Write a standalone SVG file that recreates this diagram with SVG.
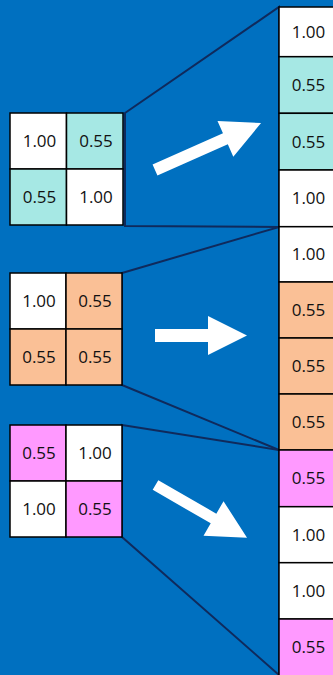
<svg xmlns="http://www.w3.org/2000/svg" width="333" height="675" viewBox="0 0 333 675">
<style>
.c{stroke:#000;stroke-width:1.5}
.w{fill:#fff}
.cy{fill:#a6e8e4}
.or{fill:#fac096}
.pk{fill:#ff99ff}
.t{font-family:"Open Sans","Liberation Sans",sans-serif;font-size:17px;fill:#111;text-anchor:middle}
.ln{fill:none;stroke:#0f2a5c;stroke-width:2}
.ar{fill:#fff}
</style>
<rect width="333" height="675" fill="#0070c0"/>
<g id="connectors">
<polygon class="ln" points="125,113 279,7 279,227 125,226"/>
<polygon class="ln" points="122,273 279,227 279,450 122,385"/>
<polygon class="ln" points="122,425 279,450 279,675 122,537"/>
<polygon class="ar" transform="translate(155,170) rotate(-23.9)" points="0,-6 77,-6 77,-19.5 116,0 77,19.5 77,6 0,6"/>
<polygon class="ar" transform="translate(155,335.5)" points="0,-6.5 53,-6.5 53,-19.5 92,0 53,19.5 53,6.5 0,6.5"/>
<polygon class="ar" transform="translate(155.5,485) rotate(30)" points="0,-5.6 67,-5.6 67,-20 105.7,0 67,20 67,5.6 0,5.6"/>
</g>
<g id="matrix1">
<rect class="c w" x="10" y="113" width="56.5" height="56"/>
<rect class="c cy" x="66.5" y="113" width="56.5" height="56"/>
<rect class="c cy" x="10" y="169" width="56.5" height="56"/>
<rect class="c w" x="66.5" y="169" width="56.5" height="56"/>
<text class="t" x="39.5" y="147">1.00</text>
<text class="t" x="96" y="147">0.55</text>
<text class="t" x="39.5" y="203">0.55</text>
<text class="t" x="96" y="203">1.00</text>
</g>
<g id="matrix2">
<rect class="c w" x="10" y="273" width="56" height="56"/>
<rect class="c or" x="66" y="273" width="56" height="56"/>
<rect class="c or" x="10" y="329" width="56" height="56"/>
<rect class="c or" x="66" y="329" width="56" height="56"/>
<text class="t" x="39" y="307">1.00</text>
<text class="t" x="95" y="307">0.55</text>
<text class="t" x="39" y="363">0.55</text>
<text class="t" x="95" y="363">0.55</text>
</g>
<g id="matrix3">
<rect class="c pk" x="10" y="425" width="56" height="56"/>
<rect class="c w" x="66" y="425" width="56" height="56"/>
<rect class="c w" x="10" y="481" width="56" height="56"/>
<rect class="c pk" x="66" y="481" width="56" height="56"/>
<text class="t" x="39" y="459">0.55</text>
<text class="t" x="95" y="459">1.00</text>
<text class="t" x="39" y="515">1.00</text>
<text class="t" x="95" y="515">0.55</text>
</g>
<g id="column">
<rect class="c w" x="279" y="7" width="60" height="49.7"/>
<rect class="c cy" x="279" y="56.7" width="60" height="56.6"/>
<rect class="c cy" x="279" y="113.3" width="60" height="56.7"/>
<rect class="c w" x="279" y="170" width="60" height="56.7"/>
<rect class="c w" x="279" y="226.7" width="60" height="55.3"/>
<rect class="c or" x="279" y="282" width="60" height="56"/>
<rect class="c or" x="279" y="338" width="60" height="56"/>
<rect class="c or" x="279" y="394" width="60" height="56"/>
<rect class="c pk" x="279" y="450" width="60" height="56.7"/>
<rect class="c w" x="279" y="506.7" width="60" height="56"/>
<rect class="c w" x="279" y="562.7" width="60" height="56.3"/>
<rect class="c pk" x="279" y="619" width="60" height="58"/>
<text class="t" x="308.5" y="38">1.00</text>
<text class="t" x="308.5" y="91">0.55</text>
<text class="t" x="308.5" y="148">0.55</text>
<text class="t" x="308.5" y="204">1.00</text>
<text class="t" x="308.5" y="260">1.00</text>
<text class="t" x="308.5" y="316">0.55</text>
<text class="t" x="308.5" y="372">0.55</text>
<text class="t" x="308.5" y="428">0.55</text>
<text class="t" x="308.5" y="484">0.55</text>
<text class="t" x="308.5" y="541">1.00</text>
<text class="t" x="308.5" y="597">1.00</text>
<text class="t" x="308.5" y="653">0.55</text>
</g>
</svg>
